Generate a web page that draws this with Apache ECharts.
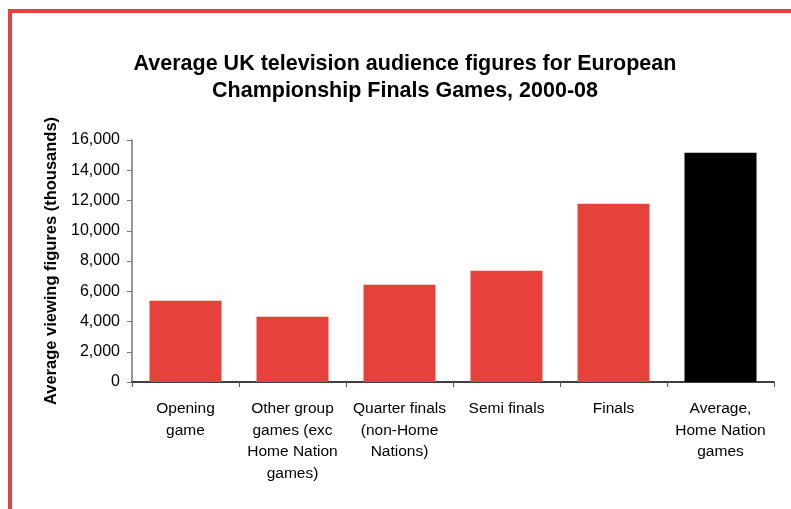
<!DOCTYPE html>
<html>
<head>
<meta charset="utf-8">
<script src="https://cdn.jsdelivr.net/npm/echarts@6/dist/echarts.min.js"></script>
<style>
  html, body { margin: 0; padding: 0; background: #fff; }
  #chart { width: 791px; height: 509px; }
</style>
</head>
<body>
<div id="chart"></div>
<script>
// Match categories (line breaks as shown under the axis)
const categories = [
  'Opening\ngame',
  'Other group\ngames (exc\nHome Nation\ngames)',
  'Quarter finals\n(non-Home\nNations)',
  'Semi finals',
  'Finals',
  'Average,\nHome Nation\ngames'
];
// Average audience, thousands
const viewers = [5370, 4320, 6430, 7360, 11780, 15150];
// Bar fill per category
const barColors = ['#e8403a', '#e8403a', '#e8403a', '#e8403a', '#e8403a', '#000000'];

const chart = echarts.init(document.getElementById('chart'), null, { renderer: 'canvas' });
const font = '"Liberation Sans", Arial, sans-serif';

chart.setOption({
  animation: false,
  backgroundColor: '#ffffff',
  title: {
    text: 'Average UK television audience figures for European\nChampionship Finals Games, 2000-08',
    left: 400,
    top: 46,
    textAlign: 'center',
    textStyle: { fontFamily: font, fontSize: 21.5, fontWeight: 'bold', color: '#000', lineHeight: 27 }
  },
  graphic: [
    { type: 'rect', shape: { x: 8, y: 9, width: 783, height: 4 }, style: { fill: '#e8403a' } },
    { type: 'rect', shape: { x: 8, y: 9, width: 4, height: 500 }, style: { fill: '#e8403a' } }
  ],
  grid: { left: 132, right: 17, top: 140, bottom: 127, containLabel: false },
  xAxis: {
    type: 'category',
    data: categories,
    axisLine: { lineStyle: { color: '#000', width: 1.5 } },
    axisTick: { show: true, length: 5, alignWithLabel: false, lineStyle: { color: '#555' } },
    axisLabel: { interval: 0, margin: 16, fontFamily: font, fontSize: 15.5, color: '#000', lineHeight: 21.5, align: 'center' }
  },
  yAxis: {
    type: 'value',
    min: 0,
    max: 16000,
    interval: 2000,
    name: 'Average viewing figures (thousands)',
    nameLocation: 'middle',
    nameGap: 72,
    nameTextStyle: { fontFamily: font, fontSize: 16.5, fontWeight: 'bold', color: '#000' },
    axisLine: { show: true, lineStyle: { color: '#777', width: 1.5 } },
    axisTick: { show: true, length: 5, lineStyle: { color: '#777' } },
    splitLine: { show: false },
    axisLabel: {
      margin: 12,
      fontFamily: font, fontSize: 16, color: '#000',
      formatter: v => v.toLocaleString('en-GB')
    }
  },
  series: [{
    type: 'bar',
    barWidth: 72,
    data: viewers.map((v, i) => ({ value: v, itemStyle: { color: barColors[i] } }))
  }]
});
</script>
</body>
</html>
